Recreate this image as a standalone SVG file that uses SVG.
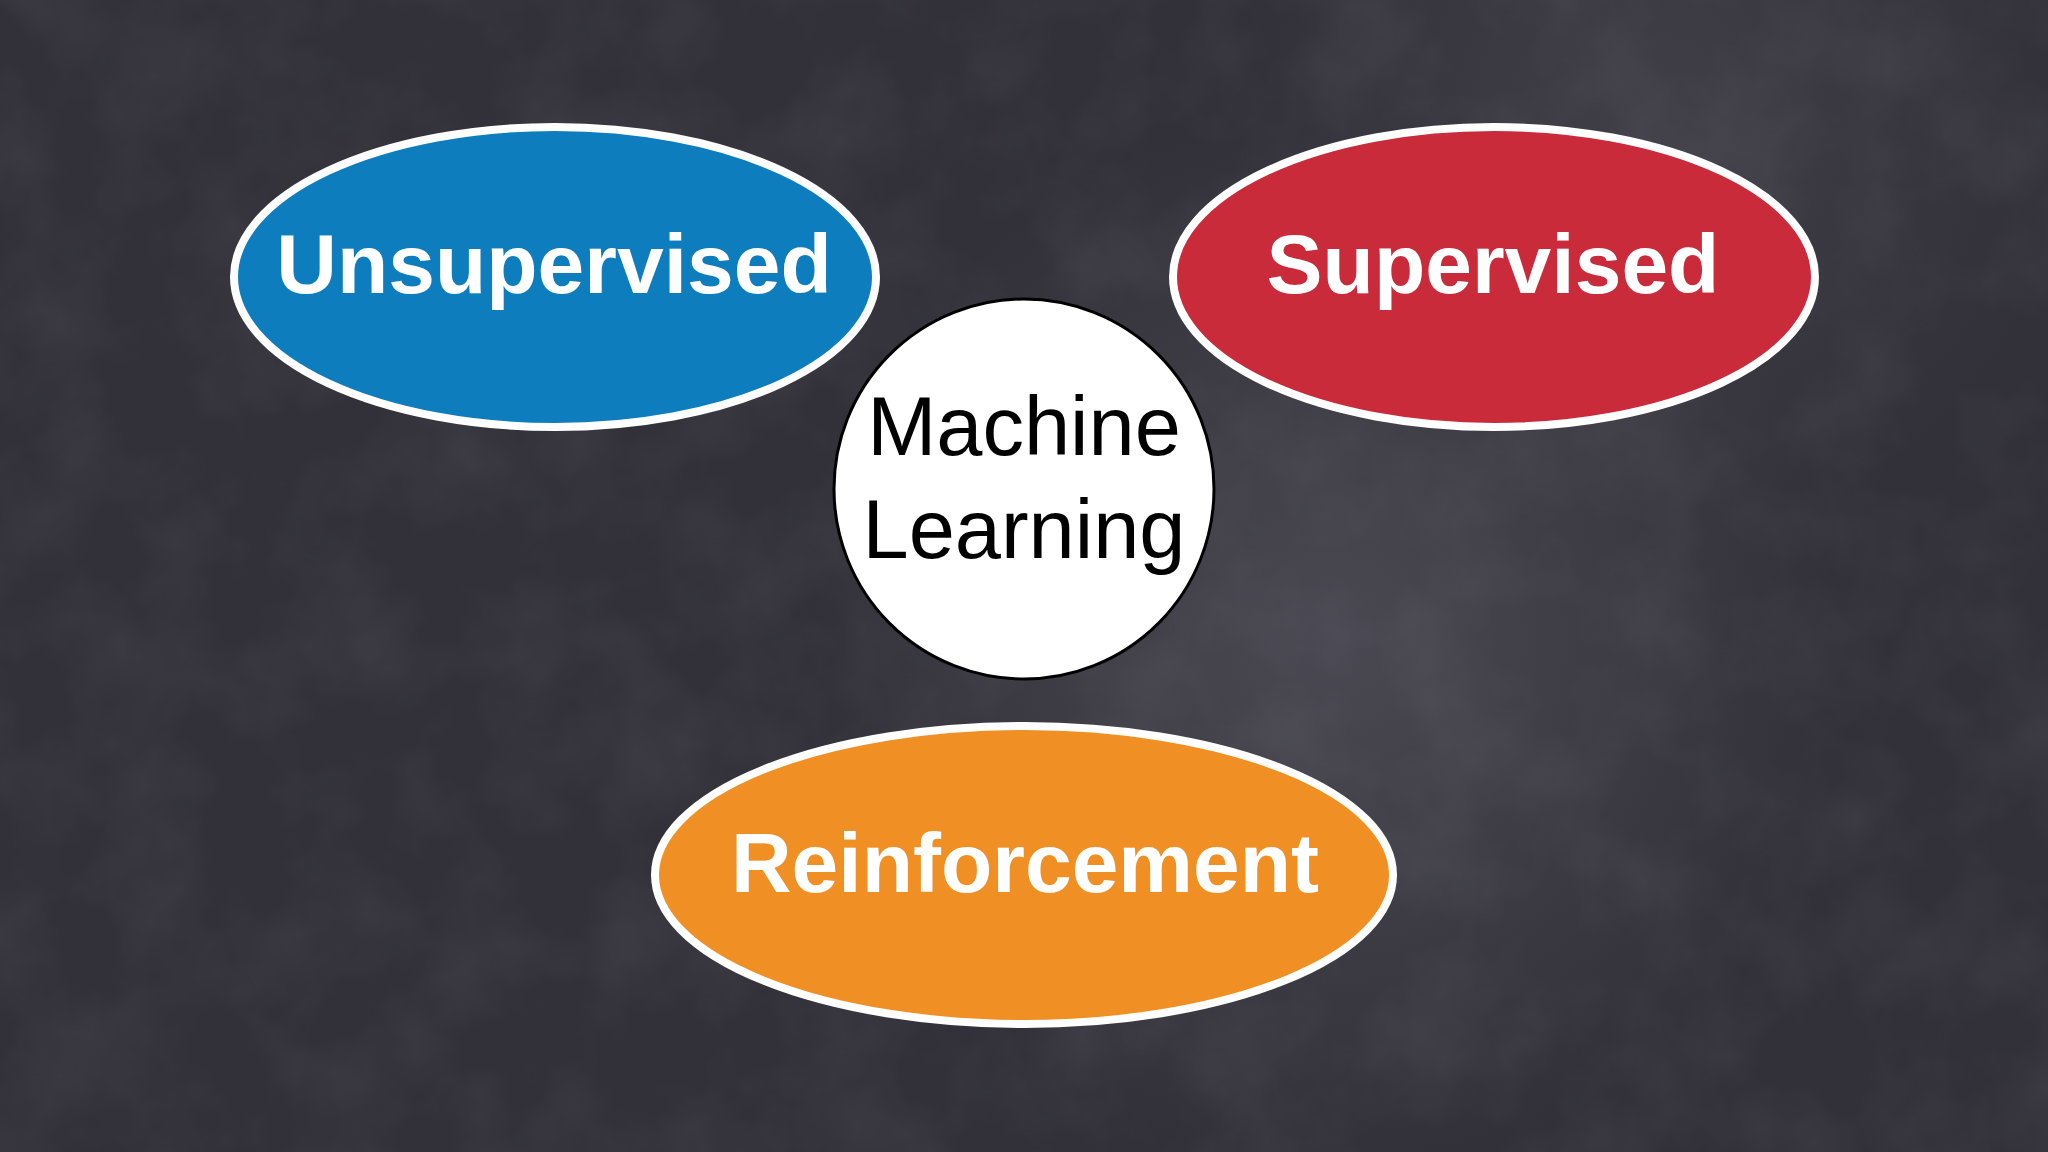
<svg xmlns="http://www.w3.org/2000/svg" width="2048" height="1152" viewBox="0 0 2048 1152">
  <defs>
    <radialGradient id="glow1" cx="1330" cy="640" r="520" gradientUnits="userSpaceOnUse">
      <stop offset="0" stop-color="#4d4c56" stop-opacity="0.9"/>
      <stop offset="1" stop-color="#4d4c56" stop-opacity="0"/>
    </radialGradient>
    <radialGradient id="glow2" cx="1650" cy="120" r="420" gradientUnits="userSpaceOnUse">
      <stop offset="0" stop-color="#44434d" stop-opacity="0.8"/>
      <stop offset="1" stop-color="#44434d" stop-opacity="0"/>
    </radialGradient>
    <filter id="chalk" x="0" y="0" width="100%" height="100%">
      <feTurbulence type="fractalNoise" baseFrequency="0.01" numOctaves="4" seed="7" result="n"/>
      <feColorMatrix type="matrix" values="0 0 0 0 0.42  0 0 0 0 0.42  0 0 0 0 0.47  0 0 0 0.5 -0.18"/>
    </filter>
    <style>
      .oval { stroke: #ffffff; stroke-width: 8; }
      .label { font-family: "Liberation Sans", Arial, sans-serif; font-weight: bold; font-size: 84px; fill: #ffffff; text-anchor: middle; }
      .center-label { font-family: "Liberation Sans", Arial, sans-serif; font-size: 83px; fill: #000000; text-anchor: middle; }
    </style>
  </defs>

  <g id="background">
    <rect width="2048" height="1152" fill="#323139"/>
    <rect width="2048" height="1152" fill="url(#glow1)"/>
    <rect width="2048" height="1152" fill="url(#glow2)"/>
    <rect width="2048" height="1152" filter="url(#chalk)" opacity="0.3"/>
  </g>

  <g id="connectors"></g>

  <g id="node-unsupervised">
    <ellipse class="oval" cx="555" cy="277" rx="321" ry="150" fill="#0e7dbd"/>
    <text class="label" x="554" y="293">Unsupervised</text>
  </g>

  <g id="node-supervised">
    <ellipse class="oval" cx="1494" cy="277" rx="321" ry="150" fill="#c92b3b"/>
    <text class="label" x="1493" y="293">Supervised</text>
  </g>

  <g id="node-machine-learning">
    <circle cx="1024" cy="489" r="190" fill="#ffffff" stroke="#000000" stroke-width="3"/>
    <text class="center-label" x="1024" y="455">Machine</text>
    <text class="center-label" x="1024" y="558">Learning</text>
  </g>

  <g id="node-reinforcement">
    <ellipse class="oval" cx="1024" cy="875" rx="369" ry="149" fill="#f08f24"/>
    <text class="label" x="1025" y="892">Reinforcement</text>
  </g>
</svg>
